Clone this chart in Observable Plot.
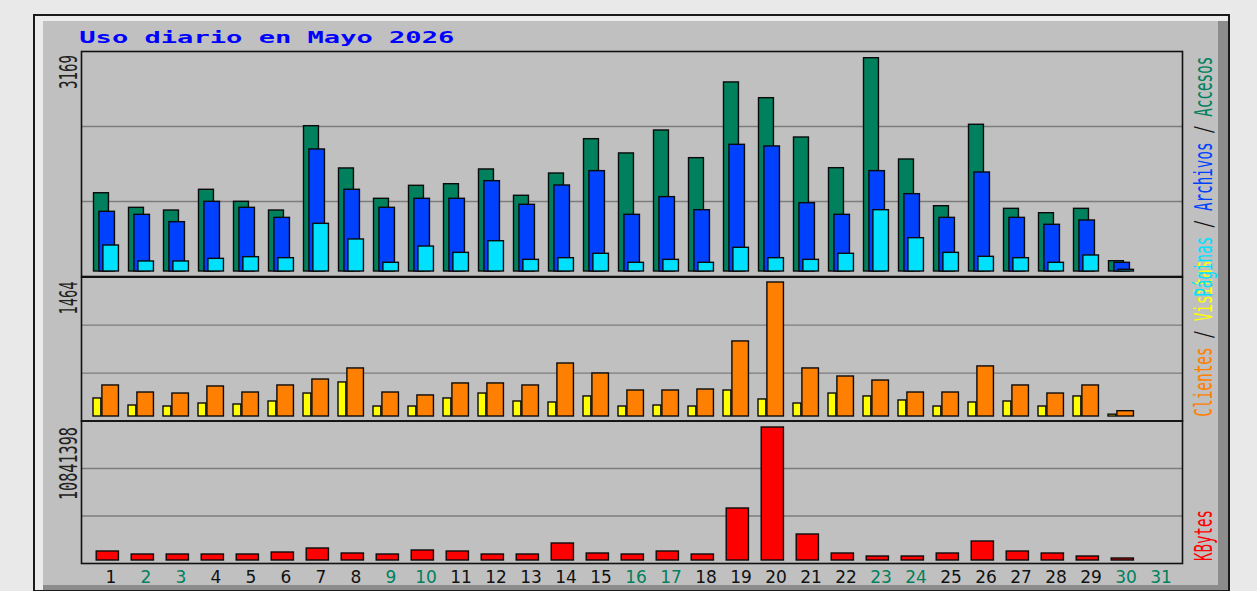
<!DOCTYPE html>
<html>
<head>
<meta charset="utf-8">
<script src="https://cdn.jsdelivr.net/npm/d3@7"></script>
<script src="https://cdn.jsdelivr.net/npm/@observablehq/plot@0.6"></script>
<style>
  html, body { margin:0; padding:0; background:#e9e9e9; width:1257px; height:591px; overflow:hidden; }
  #stage { position:relative; width:1257px; height:591px; }
  #frame { position:absolute; left:33px; top:14px; width:1197px; height:578px; box-sizing:border-box;
           border:2px solid #1a1a1a; background:#c0c0c0;
           box-shadow: inset 8px 5px 0 #ececec, inset -10px -5px 0 #8c8c8c; }
  .layer { position:absolute; left:0; top:0; }
</style>
</head>
<body>
<div id="stage"><div id="frame"></div></div>
<script>
// ---- data ----
const days = [1,2,3,4,5,6,7,8,9,10,11,12,13,14,15,16,17,18,19,20,21,22,23,24,25,26,27,28,29,30,31];
const weekendDays = [2,3,9,10,16,17,23,24,30,31];
const accesos  = [1163,946,906,1214,1035,906,2159,1531,1080,1273,1297,1516,1125,1456,1966,1754,2095,1684,2809,2575,1991,1535,3169,1664,970,2180,931,866,931,153,null];
const archivos = [887,842,733,1035,946,797,1813,1214,946,1080,1080,1342,991,1278,1491,842,1105,911,1882,1858,1015,842,1491,1149,797,1471,797,694,758,129,null];
const paginas  = [386,149,149,188,213,198,708,476,129,371,277,450,173,198,263,129,173,129,352,198,173,263,911,495,277,218,198,129,238,25,null];
const visitas  = [197,120,109,142,131,164,251,372,109,109,197,251,164,153,219,109,120,109,284,186,142,251,219,175,109,153,164,109,219,20,null];
const clientes = [339,262,251,328,262,339,404,525,262,230,361,361,339,579,470,284,284,295,820,1464,525,437,393,262,262,547,339,251,339,58,null];
const kbytes   = [733600,489000,489000,489000,489000,652000,978000,570600,489000,815000,733600,489000,489000,1385700,570600,489000,733600,489000,4238700,10841398,2119400,570600,326000,326000,570600,1548800,733600,570600,326000,163000,null];

const title = "Uso diario en Mayo 2026";
const COLORS = {accesos:"#00805c", archivos:"#0040ff", paginas:"#00e0ff", visitas:"#ffff00", clientes:"#ff8000", kbytes:"#ff0000"};

// ---- layout ----
const W = 1257, H = 591;
const X0 = 92.3, X1 = 1179.2;      // band range for the 31 days
const FL = 81, FR = 1182;           // panel frame left/right
const BW = (X1 - X0) / days.length; // bandwidth

const series = (arr) => days.map((d, i) => ({day: d, v: arr[i]})).filter(r => r.v != null);

function bars(arr, fill, left, right) {
  return Plot.barY(series(arr), {x: "day", y: "v", fill, stroke: "#0a0a0a", strokeWidth: 1.4,
    insetLeft: left, insetRight: BW - right});
}

function panel({frameTop, frameBottom, base, maxTop, maxVal, marks}) {
  const ppu = (base - maxTop) / maxVal;
  const lo = -(frameBottom - base) / ppu, hi = (base - frameTop) / ppu;
  return Plot.plot({
    width: W, height: H,
    marginLeft: FL, marginRight: W - FR, marginTop: frameTop, marginBottom: H - frameBottom,
    x: {type: "band", domain: days, range: [X0, X1], padding: 0, axis: null},
    y: {domain: [lo, hi], range: [frameBottom, frameTop], axis: null},
    style: {background: "none", overflow: "visible", fontFamily: "DejaVu Sans"},
    marks: [
      Plot.ruleY([lo + (hi - lo) / 3, lo + 2 * (hi - lo) / 3], {stroke: "#7c7c7c", strokeWidth: 1.3}),
      ...marks,
      Plot.frame({stroke: "#111", strokeWidth: 1.6})
    ]
  });
}

const stage = document.getElementById("stage");
const maxHits = d3.max(accesos), maxVisits = d3.max(clientes), maxK = d3.max(kbytes);

const p1 = panel({frameTop: 51, frameBottom: 276, base: 271, maxTop: 57.7, maxVal: maxHits, marks: [
  bars(accesos, COLORS.accesos, 0.5, 15.5),
  bars(archivos, COLORS.archivos, 5.9, 21.5),
  bars(paginas, COLORS.paginas, 9.9, 25.5)
]});
const p2 = panel({frameTop: 276.7, frameBottom: 420.5, base: 416, maxTop: 282, maxVal: maxVisits, marks: [
  bars(visitas, COLORS.visitas, 0, 7.9),
  bars(clientes, COLORS.clientes, 8.9, 25.5)
]});
const p3 = panel({frameTop: 420.5, frameBottom: 563, base: 560, maxTop: 427, maxVal: maxK, marks: [
  bars(kbytes, COLORS.kbytes, 3.2, 25.5),
  Plot.text(days.filter(d => !weekendDays.includes(d)), {x: d => d, text: d => String(d), frameAnchor: "bottom", dy: 19,
    fill: "#111", fontSize: 17, fontFamily: "DejaVu Sans"}),
  Plot.text(weekendDays, {x: d => d, text: d => String(d), frameAnchor: "bottom", dy: 19,
    fill: COLORS.accesos, fontSize: 17, fontFamily: "DejaVu Sans"})
]});
for (const p of [p1, p2, p3]) { p.classList.add("layer"); stage.appendChild(p); }

// ---- text overlay: title, max labels, legends ----
const svg = d3.select(stage).append("svg").attr("class", "layer").attr("width", W).attr("height", H)
  .style("overflow", "visible");

svg.append("text").attr("x", 79.3).attr("y", 42.6)
  .attr("font-family", "DejaVu Sans Mono").attr("font-weight", "bold").attr("font-size", 16.5)
  .attr("fill", "#0000ff").attr("textLength", 375).attr("lengthAdjust", "spacingAndGlyphs").text(title);

function upText(x, y, anchor, len, parts, size) {
  const t = svg.append("text").attr("transform", `translate(${x},${y}) rotate(-90)`)
    .attr("text-anchor", anchor).attr("font-family", "DejaVu Sans Mono").attr("font-size", size || 25)
    .attr("textLength", len).attr("lengthAdjust", "spacingAndGlyphs");
  for (const [s, c] of parts) t.append("tspan").attr("fill", c).text(s);
}
// maximum values (left)
upText(77.3, 55, "end", 34, [[String(maxHits), "#222"]], 25);
upText(77.3, 281.5, "end", 33, [[String(maxVisits), "#222"]], 25);
upText(77.3, 427, "end", 73, [[String(maxK), "#222"]], 25);
// legends (right)
upText(1211.7, 416.7, "start", 156, [["Clientes", COLORS.clientes], [" / ", "#111"], ["Visitas", COLORS.visitas]], 25);
upText(1211.7, 56.7, "end", 240, [["Páginas", COLORS.paginas], [" / ", "#111"], ["Archivos", COLORS.archivos], [" / ", "#111"], ["Accesos", COLORS.accesos]], 25);
upText(1211.7, 561, "start", 51, [["KBytes", COLORS.kbytes]], 25);
</script>
</body>
</html>
